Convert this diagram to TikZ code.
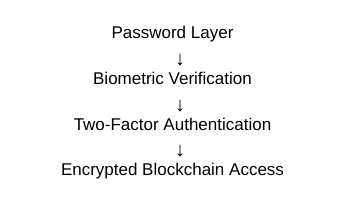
\documentclass[tikz,border=0pt]{standalone}
\usepackage{fontspec}
\setmainfont{Liberation Sans}
\begin{document}
\begin{tikzpicture}[x=1pt,y=1pt,
  steptext/.style={anchor=base,inner sep=0pt,font=\fontsize{17}{20}\selectfont},
  arrowtext/.style={anchor=base,inner sep=0pt,font=\fontsize{20}{22}\selectfont}]
\useasboundingbox (0,0) rectangle (342,216);
\node[steptext] (s1) at (172.5,{216-39}) {Password Layer};
\node[arrowtext] (a1) at (180,{216-66}) {↓};
\node[steptext] (s2) at (172.5,{216-85}) {Biometric Verification};
\node[arrowtext] (a2) at (180,{216-111.5}) {↓};
\node[steptext] (s3) at (172.5,{216-130.5}) {Two-Factor Authentication};
\node[arrowtext] (a3) at (180,{216-157}) {↓};
\node[steptext] (s4) at (172.5,{216-176}) {Encrypted Blockchain Access};
\end{tikzpicture}
\end{document}
